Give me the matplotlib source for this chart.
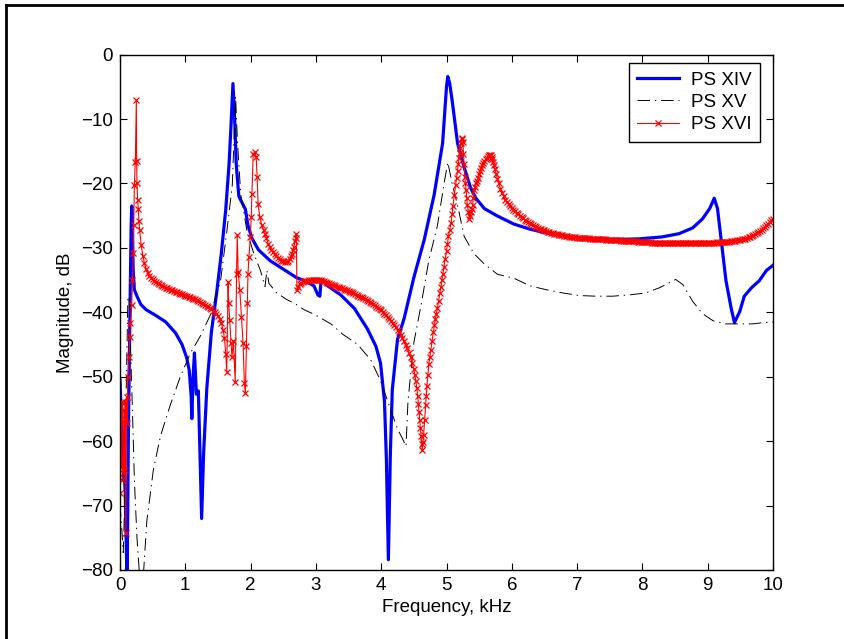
import matplotlib
matplotlib.use("Agg")
import matplotlib.pyplot as plt
from matplotlib.lines import Line2D

plt.rcParams['font.family'] = ['Liberation Sans', 'DejaVu Sans']
plt.rcParams['lines.scale_dashes'] = False

# ---------------- data ----------------
xiv_f = [0.00, 0.02, 0.05, 0.08, 0.10, 0.11, 0.13, 0.15, 0.17, 0.18, 0.19, 0.20, 0.22, 0.26,
         0.32, 0.40, 0.55, 0.70, 0.85, 0.95, 1.02, 1.06, 1.09, 1.10, 1.12, 1.14, 1.17, 1.20,
         1.22, 1.25, 1.28, 1.33, 1.40, 1.48, 1.55, 1.62, 1.67, 1.70, 1.73, 1.76, 1.78, 1.82,
         1.87, 1.92, 1.96, 2.02, 2.12, 2.30, 2.50, 2.70, 2.85, 2.97, 3.03, 3.06, 3.08, 3.12,
         3.18, 3.38, 3.59, 3.79, 3.92, 3.99, 4.05, 4.08, 4.11, 4.14, 4.17, 4.25, 4.35, 4.50,
         4.66, 4.81, 4.94, 5.00, 5.02, 5.05, 5.09, 5.17, 5.27, 5.37, 5.45, 5.58, 5.77, 6.03,
         6.28, 6.53, 7.04, 7.54, 7.95, 8.30, 8.56, 8.77, 8.92, 9.03, 9.10, 9.15, 9.20, 9.28,
         9.36, 9.41, 9.49, 9.56, 9.67, 9.79, 9.90, 10.0]
xiv_m = [-50.5, -56.0, -62.0, -68.0, -78.0, -81.0, -57.0, -42.0, -27.0, -23.5, -25.0, -33.0, -36.5, -37.5,
         -38.8, -39.6, -40.5, -41.5, -43.2, -45.0, -47.0, -49.0, -53.0, -56.5, -50.0, -46.3, -52.7, -52.2,
         -60.0, -72.0, -62.0, -51.7, -43.0, -37.0, -31.0, -24.0, -17.0, -11.0, -4.5, -11.0, -17.0, -22.0,
         -23.0, -24.0, -26.5, -28.5, -30.3, -32.0, -33.3, -34.6, -35.2, -35.9, -37.3, -37.5, -35.0, -35.2,
         -35.9, -37.3, -39.4, -42.6, -45.3, -47.9, -53.8, -63.0, -78.4, -62.0, -52.0, -44.2, -41.0, -34.6,
         -28.7, -21.8, -13.8, -5.0, -3.4, -4.5, -7.4, -13.8, -17.5, -20.7, -22.3, -23.9, -25.0, -26.3,
         -27.1, -27.7, -28.5, -28.7, -28.6, -28.3, -27.8, -26.9, -25.5, -23.9, -22.3, -23.9, -28.2, -35.1,
         -39.4, -41.6, -39.9, -37.5, -36.2, -35.1, -33.5, -32.7]

xv_f = [0.00, 0.03, 0.05, 0.07, 0.09, 0.12, 0.14, 0.16, 0.19, 0.22, 0.26, 0.30, 0.33, 0.36,
        0.41, 0.51, 0.62, 0.77, 0.92, 1.08, 1.23, 1.38, 1.54, 1.64, 1.72, 1.77, 1.80, 1.85,
        1.95, 2.05, 2.15, 2.22, 2.25, 2.28, 2.40, 2.55, 2.67, 2.82, 2.97, 3.23, 3.41, 3.64,
        3.84, 3.99, 4.12, 4.25, 4.33, 4.38, 4.41, 4.50, 4.61, 4.73, 4.86, 4.96, 5.02, 5.09,
        5.17, 5.27, 5.42, 5.58, 5.78, 6.03, 6.28, 6.53, 6.78, 7.04, 7.29, 7.54, 7.80, 8.05,
        8.26, 8.51, 8.62, 8.77, 8.92, 9.08, 9.28, 9.49, 9.69, 9.85, 10.0]
xv_m = [-69.8, -74.0, -77.3, -70.0, -55.0, -38.0, -37.5, -45.0, -55.0, -66.0, -75.0, -81.0, -81.0, -80.5,
        -72.5, -64.5, -59.2, -54.4, -50.1, -46.3, -43.7, -40.5, -35.1, -27.1, -20.2, -6.5, -13.8, -21.8,
        -27.7, -30.9, -33.5, -36.0, -33.5, -35.5, -37.0, -38.0, -38.6, -39.6, -40.3, -41.8, -43.4, -45.0,
        -47.4, -50.6, -54.4, -58.1, -59.7, -60.8, -53.8, -44.7, -38.9, -31.9, -26.6, -20.2, -16.7, -20.2,
        -23.4, -28.2, -30.9, -32.5, -34.1, -34.7, -35.9, -36.5, -37.0, -37.4, -37.5, -37.5, -37.3, -37.0,
        -36.2, -34.9, -35.7, -38.3, -40.2, -41.3, -41.8, -41.8, -41.8, -41.6, -41.5]

xvi_f = [
    0.000, 0.005, 0.010, 0.020, 0.030, 0.035, 0.040, 0.050, 0.060, 0.070, 0.080, 0.090,
    0.100, 0.110, 0.120, 0.140, 0.150, 0.160, 0.180, 0.190, 0.200, 0.210, 0.220, 0.235,
    0.250, 0.255, 0.260, 0.270, 0.280, 0.290,
    0.300, 0.325, 0.350, 0.375, 0.400, 0.425, 0.450, 0.475, 0.500, 0.525, 0.550, 0.575,
    0.600, 0.625, 0.650, 0.675, 0.700, 0.725, 0.750, 0.775, 0.800, 0.825, 0.850, 0.875,
    0.900, 0.925, 0.950, 0.975, 1.000, 1.025, 1.050, 1.075, 1.100, 1.125, 1.150, 1.175,
    1.200, 1.225, 1.250, 1.275, 1.300, 1.325, 1.350, 1.375, 1.400, 1.425, 1.450, 1.475,
    1.500, 1.525, 1.550, 1.580, 1.600,
    1.620, 1.635, 1.655, 1.665, 1.680, 1.700, 1.715, 1.735, 1.765, 1.785, 1.795, 1.810,
    1.835, 1.860, 1.885, 1.905, 1.920, 1.935, 1.950, 1.960, 1.975, 1.995, 2.010, 2.020,
    2.040, 2.065, 2.085, 2.100, 2.115, 2.140, 2.170, 2.200, 2.220, 2.240, 2.270, 2.295,
    2.320, 2.345, 2.370, 2.395, 2.420, 2.445, 2.470, 2.495, 2.520, 2.550, 2.580, 2.600,
    2.620, 2.635, 2.650, 2.665, 2.680, 2.690, 2.700, 2.710, 2.730,
    2.750, 2.775, 2.800, 2.825, 2.850, 2.875, 2.900, 2.925, 2.950, 2.975, 3.000, 3.025,
    3.050, 3.075, 3.100, 3.125, 3.150, 3.175, 3.200, 3.225, 3.250, 3.275, 3.300, 3.325,
    3.350, 3.375, 3.400, 3.425, 3.450, 3.475, 3.500, 3.525, 3.550, 3.575, 3.600, 3.625,
    3.650, 3.675, 3.700, 3.725, 3.750, 3.775, 3.800, 3.825, 3.850, 3.875, 3.900, 3.925,
    3.950, 3.975, 4.000, 4.025, 4.050, 4.075, 4.100, 4.125, 4.150, 4.175, 4.200, 4.225,
    4.250, 4.275, 4.300, 4.325, 4.350, 4.375, 4.400, 4.425, 4.450, 4.475, 4.500,
    4.515, 4.530, 4.545, 4.560, 4.570, 4.580, 4.590, 4.600, 4.610, 4.620, 4.630, 4.640,
    4.650, 4.665, 4.680, 4.690, 4.700, 4.715, 4.730, 4.745, 4.760, 4.780, 4.800, 4.815,
    4.830, 4.845, 4.860, 4.880, 4.900, 4.915, 4.930, 4.945, 4.960, 4.980, 5.000, 5.015,
    5.030, 5.050, 5.070, 5.085, 5.100, 5.120, 5.140, 5.155, 5.170, 5.180, 5.190, 5.200,
    5.210, 5.220, 5.230, 5.240, 5.250, 5.260, 5.270, 5.280, 5.290, 5.300, 5.310, 5.320,
    5.335, 5.350, 5.360, 5.370, 5.385, 5.400, 5.410, 5.420, 5.435, 5.450, 5.465, 5.480,
    5.500, 5.520, 5.535, 5.550, 5.565, 5.580, 5.600, 5.620, 5.635, 5.650, 5.665, 5.680,
    5.690, 5.700, 5.715, 5.730, 5.745, 5.760, 5.780,
    5.800, 5.825, 5.850, 5.875, 5.900, 5.925, 5.950, 5.975, 6.000, 6.025, 6.050, 6.075,
    6.100, 6.125, 6.150, 6.175, 6.200, 6.225, 6.250, 6.275, 6.300, 6.325, 6.350, 6.375,
    6.400, 6.425, 6.450, 6.475, 6.500, 6.525, 6.550, 6.575, 6.600, 6.625, 6.650, 6.675,
    6.700, 6.725, 6.750, 6.775, 6.800, 6.825, 6.850, 6.875, 6.900, 6.925, 6.950, 6.975,
    7.000, 7.025, 7.050, 7.075, 7.100, 7.125, 7.150, 7.175, 7.200, 7.225, 7.250, 7.275,
    7.300, 7.325, 7.350, 7.375, 7.400, 7.425, 7.450, 7.475, 7.500, 7.525, 7.550, 7.575,
    7.600, 7.625, 7.650, 7.675, 7.700, 7.725, 7.750, 7.775, 7.800, 7.825, 7.850, 7.875,
    7.900, 7.925, 7.950, 7.975, 8.000, 8.025, 8.050, 8.075, 8.100, 8.125, 8.150, 8.175,
    8.200, 8.225, 8.250, 8.275, 8.300, 8.325, 8.350, 8.375, 8.400, 8.425, 8.450, 8.475,
    8.500, 8.525, 8.550, 8.575, 8.600, 8.625, 8.650, 8.675, 8.700, 8.725, 8.750, 8.775,
    8.800, 8.825, 8.850, 8.875, 8.900, 8.925, 8.950, 8.975, 9.000, 9.025, 9.050, 9.075,
    9.100, 9.125, 9.150, 9.175, 9.200, 9.225, 9.250, 9.275, 9.300, 9.325, 9.350, 9.375,
    9.400, 9.425, 9.450, 9.475, 9.500, 9.525, 9.550, 9.575, 9.600, 9.625, 9.650, 9.675,
    9.700, 9.725, 9.750, 9.775, 9.800, 9.825, 9.850, 9.875, 9.900, 9.925, 9.950, 9.975,
    10.000]
xvi_m = [
    -54.4, -68.1, -56.5, -64.0, -53.9, -66.0, -62.4, -65.0, -55.2, -64.5, -54.0, -74.3,
    -53.1, -57.2, -50.0, -46.9, -43.8, -41.7, -38.9, -35.0, -30.8, -26.5, -20.2, -16.6,
    -7.1, -16.5, -20.0, -22.5, -24.0, -25.8,
    -27.2, -29.6, -31.2, -32.4, -33.3, -33.9, -34.3, -34.6, -34.9, -35.1, -35.3, -35.45,
    -35.6, -35.75, -35.9, -36.05, -36.2, -36.3, -36.4, -36.5, -36.6, -36.7, -36.8, -36.9,
    -37.0, -37.1, -37.2, -37.3, -37.4, -37.5, -37.6, -37.7, -37.8, -37.9, -38.0, -38.1,
    -38.2, -38.35, -38.5, -38.65, -38.8, -38.95, -39.1, -39.3, -39.5, -39.75, -40.0, -40.3,
    -40.6, -41.0, -41.6, -42.8, -44.0,
    -46.5, -49.2, -35.3, -38.6, -41.2, -44.8, -46.9, -44.5, -50.8, -34.0, -28.0, -33.8,
    -36.6, -40.7, -44.8, -51.0, -52.6, -45.3, -38.6, -34.0, -31.4, -28.3, -25.2, -21.6,
    -15.4, -15.1, -15.9, -19.0, -23.2, -25.2, -26.4, -27.3, -27.9, -28.4, -29.4, -29.9,
    -30.3, -30.6, -30.9, -31.2, -31.5, -31.8, -32.0, -32.1, -32.2, -32.2, -32.0, -31.8,
    -31.3, -30.9, -30.4, -29.8, -29.0, -28.4, -27.8, -36.6, -36.0,
    -35.6, -35.4, -35.3, -35.2, -35.15, -35.1, -35.05, -35.0, -35.0, -35.0, -35.0, -35.0,
    -35.0, -35.05, -35.1, -35.2, -35.3, -35.4, -35.5, -35.6, -35.7, -35.8, -35.9, -36.0,
    -36.1, -36.2, -36.3, -36.4, -36.5, -36.6, -36.7, -36.8, -36.9, -37.0, -37.1, -37.25,
    -37.4, -37.55, -37.7, -37.85, -38.0, -38.15, -38.3, -38.45, -38.6, -38.75, -38.9, -39.1,
    -39.3, -39.5, -39.7, -39.95, -40.2, -40.45, -40.7, -41.0, -41.3, -41.65, -42.0, -42.35,
    -42.7, -43.1, -43.5, -44.0, -44.5, -45.0, -45.6, -46.3, -47.0, -47.9, -48.8,
    -49.7, -50.6, -51.8, -53.0, -54.2, -55.4, -56.7, -58.0, -59.2, -60.5, -61.3, -60.2,
    -59.0, -56.7, -54.4, -53.0, -51.5, -49.7, -48.0, -46.9, -45.8, -44.4, -43.0, -42.0,
    -41.0, -40.2, -39.4, -38.2, -37.0, -36.0, -35.0, -34.0, -33.0, -31.7, -30.5, -29.4,
    -28.2, -27.2, -26.1, -24.8, -23.5, -21.8, -20.2, -19.1, -18.0, -17.0, -16.0, -15.2,
    -14.5, -13.7, -13.0, -13.1, -13.5, -15.5, -17.0, -19.0, -20.0, -21.0, -22.2, -23.4,
    -24.5, -25.5, -25.0, -24.5, -24.0, -23.4, -22.2, -21.0, -20.5, -20.0, -19.6, -19.2,
    -18.6, -18.0, -17.6, -17.2, -16.8, -16.5, -16.2, -16.0, -15.8, -15.6, -15.6, -15.6,
    -15.9, -16.2, -16.7, -17.2, -17.8, -18.5, -19.3,
    -20.0, -20.8, -21.5, -22.0, -22.5, -22.9, -23.2, -23.5, -23.8, -24.05, -24.3, -24.55,
    -24.8, -25.0, -25.2, -25.4, -25.6, -25.8, -26.0, -26.15, -26.3, -26.45, -26.6, -26.75,
    -26.9, -27.0, -27.1, -27.2, -27.3, -27.4, -27.5, -27.6, -27.7, -27.75, -27.8, -27.85,
    -27.9, -27.95, -28.0, -28.05, -28.1, -28.15, -28.2, -28.25, -28.3, -28.32, -28.35, -28.38,
    -28.40, -28.42, -28.45, -28.47, -28.50, -28.50, -28.52, -28.54, -28.55, -28.57, -28.60, -28.60,
    -28.62, -28.64, -28.65, -28.67, -28.70, -28.70, -28.72, -28.74, -28.75, -28.77, -28.80, -28.80,
    -28.82, -28.84, -28.85, -28.87, -28.90, -28.90, -28.92, -28.94, -28.95, -28.97, -29.00, -29.00,
    -29.00, -29.02, -29.05, -29.07, -29.10, -29.10, -29.10, -29.12, -29.15, -29.15, -29.17, -29.20,
    -29.20, -29.20, -29.22, -29.22, -29.25, -29.25, -29.25, -29.27, -29.30, -29.30, -29.30, -29.30,
    -29.30, -29.30, -29.32, -29.32, -29.32, -29.32, -29.30, -29.30, -29.30, -29.30, -29.30, -29.30,
    -29.30, -29.30, -29.30, -29.28, -29.28, -29.27, -29.25, -29.25, -29.25, -29.22, -29.20, -29.20,
    -29.20, -29.18, -29.15, -29.15, -29.12, -29.10, -29.10, -29.07, -29.05, -29.02, -29.00, -28.97,
    -28.95, -28.90, -28.85, -28.80, -28.75, -28.70, -28.62, -28.55, -28.45, -28.35, -28.25, -28.12,
    -28.00, -27.85, -27.70, -27.52, -27.35, -27.15, -26.95, -26.75, -26.50, -26.25, -26.00, -25.75,
    -25.50]

series_labels = ['PS XIV', 'PS XV', 'PS XVI']
x_ticks = [0, 1, 2, 3, 4, 5, 6, 7, 8, 9, 10]
y_ticks = [-80, -70, -60, -50, -40, -30, -20, -10, 0]

# ---------------- figure ----------------
W, H = 844, 639
fig = plt.figure(figsize=(W / 100, H / 100), dpi=100)
ax = fig.add_axes([120 / W, 1 - 570 / H, 653 / W, (570 - 54.6) / H])

ax.plot(xiv_f, xiv_m, color=(0, 0, 1), lw=2.3, label=series_labels[0])
ax.plot(xv_f, xv_m, color='black', lw=0.7, linestyle=(0, (9, 3.5, 1, 3.5)), label=series_labels[1])
ax.plot(xvi_f, xvi_m, color=(1, 0, 0), lw=0.8, marker='x', markersize=5, mew=0.9,
        label=series_labels[2])

ax.set_xlim(0, 10)
ax.set_ylim(-80, 0)
ax.set_xticks(x_ticks)
ax.set_yticks(y_ticks)
ax.tick_params(direction='in', top=True, right=True, length=5, width=0.8,
               labelsize=13.5, pad=5)
for s in ax.spines.values():
    s.set_linewidth(1.0)
ax.set_xlabel('Frequency, kHz', fontsize=13.5, labelpad=4)
ax.set_ylabel('Magnitude, dB', fontsize=13.5, labelpad=5)

leg = ax.legend(loc='upper left', bbox_to_anchor=(629 / W, 1 - 63 / H),
                bbox_transform=fig.transFigure, borderaxespad=0, fontsize=13.5,
                handlelength=2.2, handletextpad=0.65, labelspacing=0.28,
                borderpad=0.45, fancybox=False, framealpha=1)
leg.get_frame().set_edgecolor('black')
leg.get_frame().set_linewidth(1.0)

# outer frame (top and left edges visible)
fig.add_artist(Line2D([6 / W, 1.0], [1 - 5 / H, 1 - 5 / H], transform=fig.transFigure,
                      color='black', lw=2))
fig.add_artist(Line2D([6 / W, 6 / W], [0.0, 1 - 5 / H], transform=fig.transFigure,
                      color='black', lw=2))

fig.savefig('out.png', dpi=100)
